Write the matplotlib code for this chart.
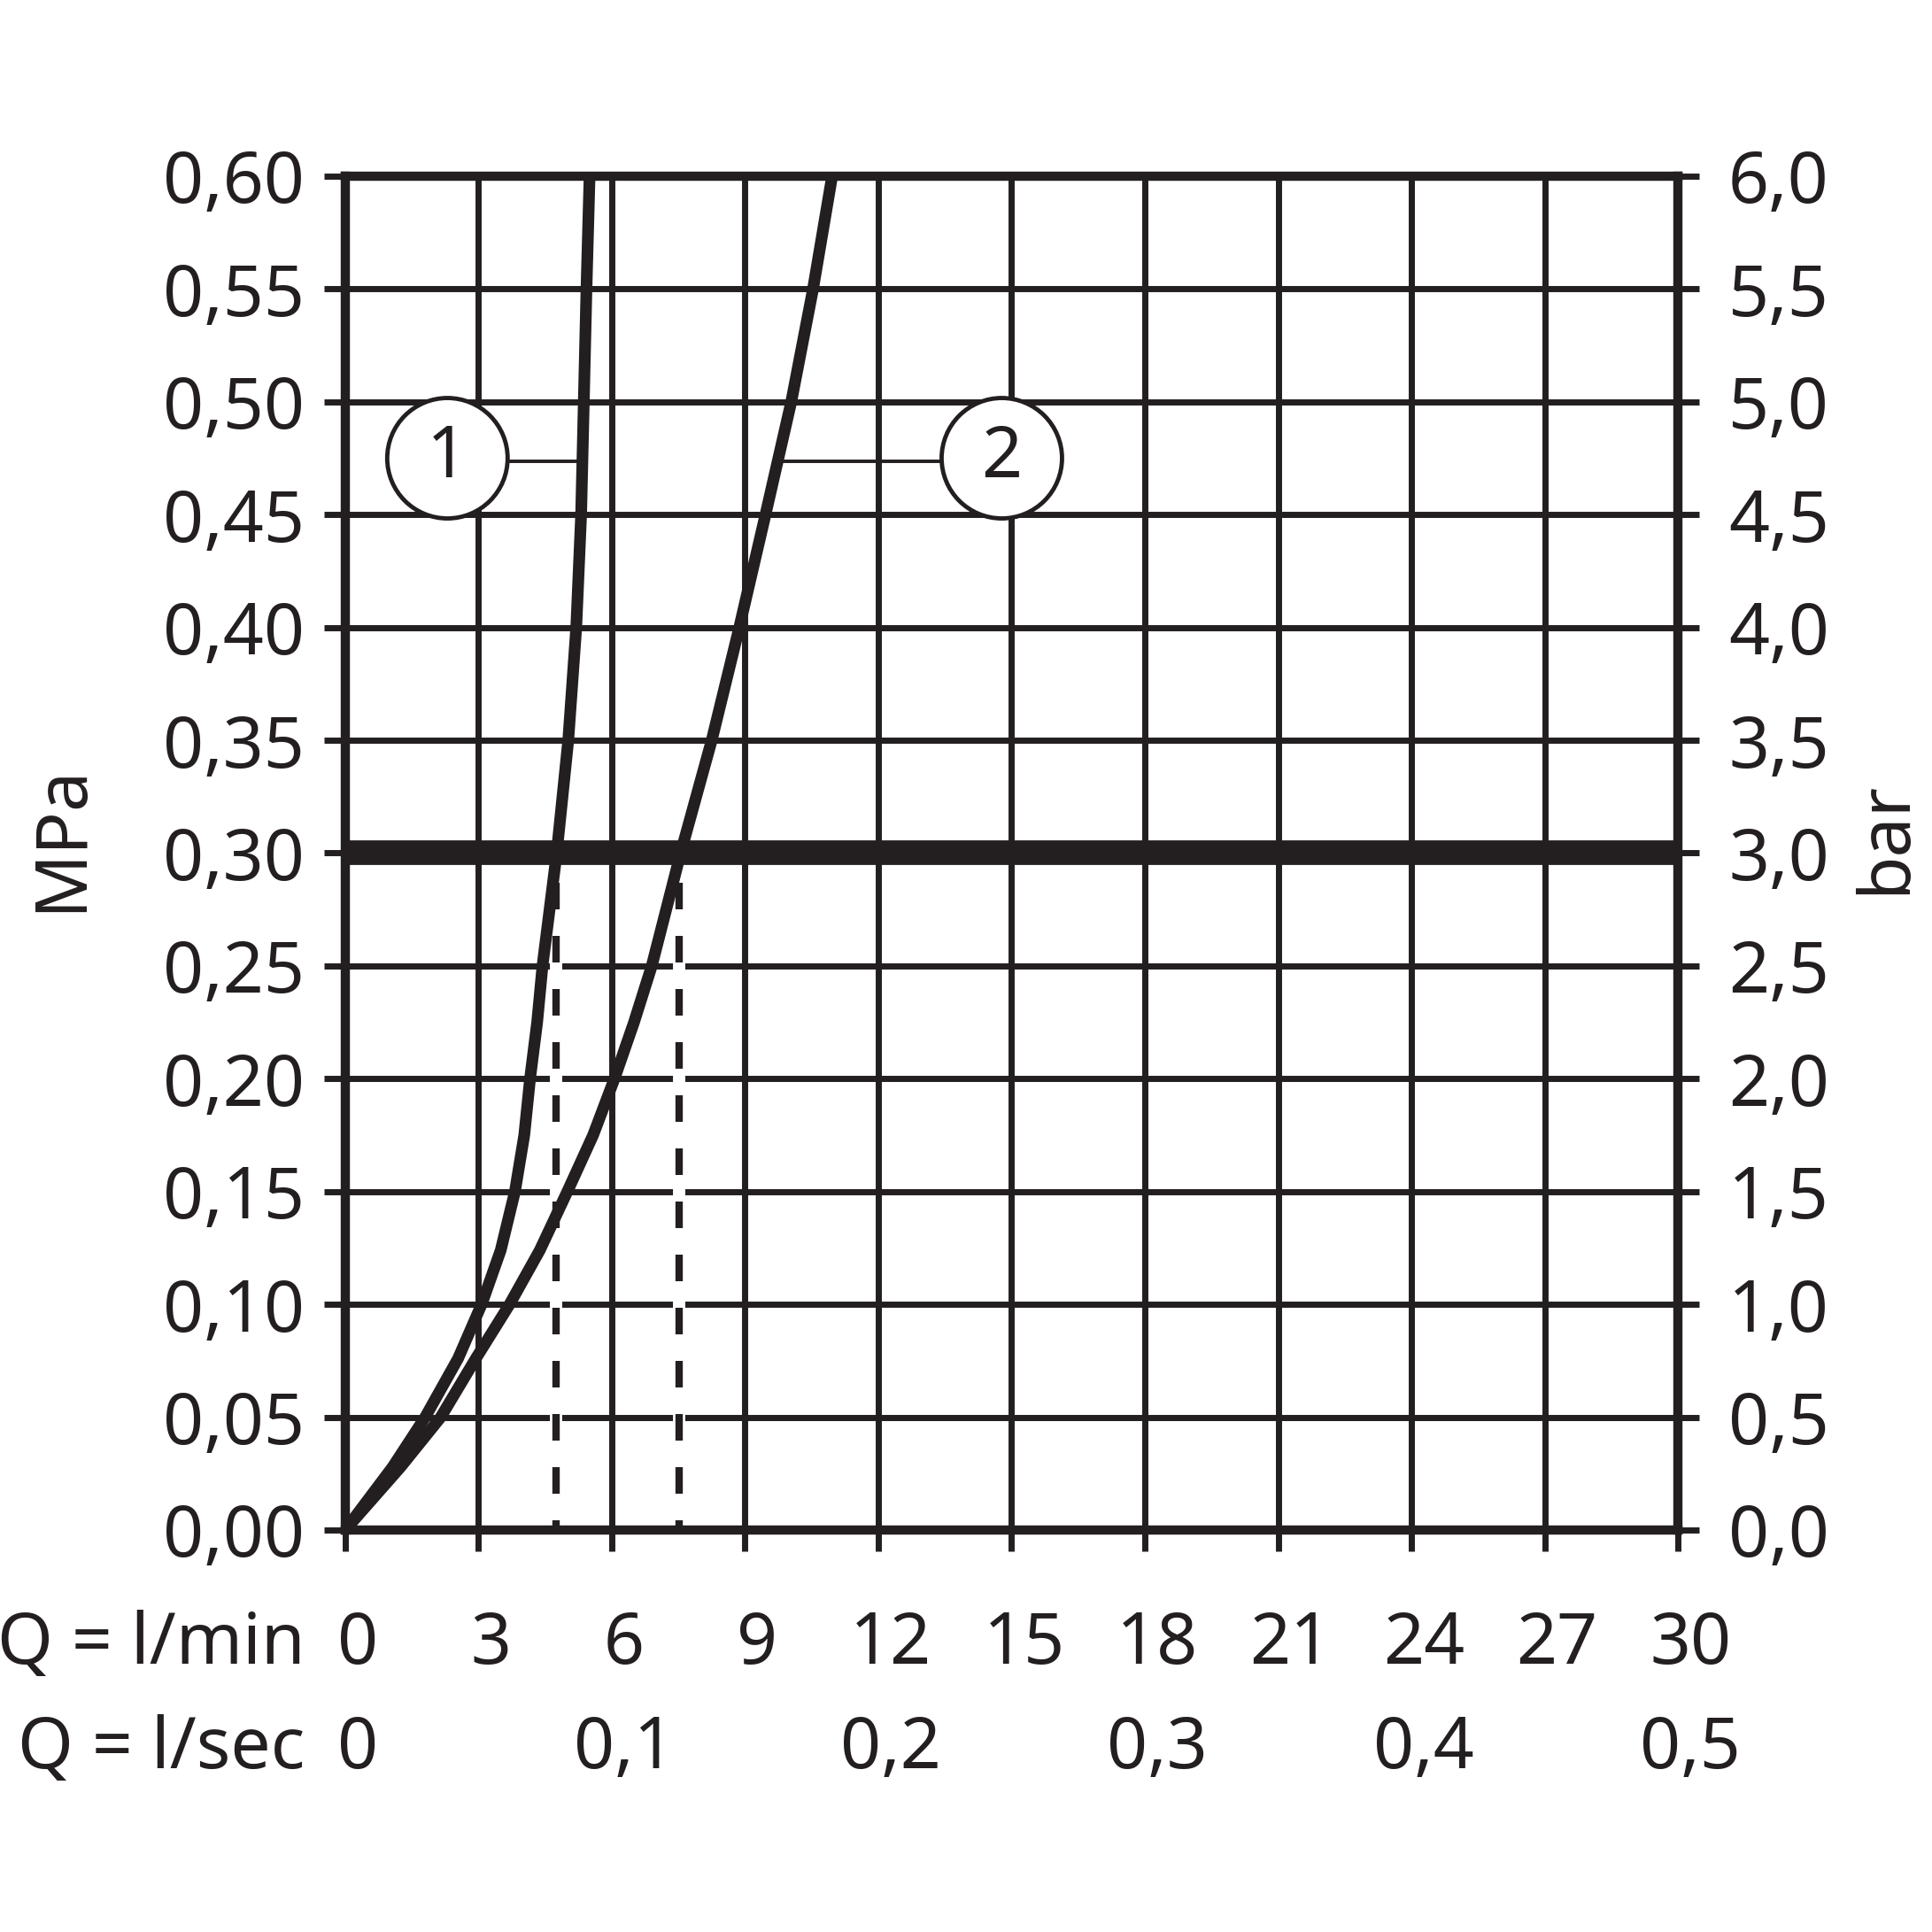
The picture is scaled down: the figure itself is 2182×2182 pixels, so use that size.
import numpy as np
import matplotlib.pyplot as plt
from matplotlib.patches import Circle
from matplotlib import transforms

plt.rcParams['font.family'] = ['Noto Sans', 'DejaVu Sans']

# curve 1 (steep) - pressure in MPa vs flow in l/min
p1 = [0.0, 0.028, 0.05, 0.076, 0.10, 0.124, 0.15, 0.175, 0.20, 0.225, 0.25, 0.30,
      0.35, 0.40, 0.45, 0.50, 0.55, 0.60]
q1 = [0.0, 1.07, 1.8, 2.54, 3.07, 3.5, 3.82, 4.03, 4.16, 4.32, 4.44, 4.76,
      5.02, 5.2, 5.31, 5.37, 5.43, 5.5]

# curve 2
p2 = [0.0, 0.028, 0.05, 0.076, 0.10, 0.124, 0.15, 0.175, 0.20, 0.225, 0.25, 0.30,
      0.35, 0.40, 0.45, 0.50, 0.55, 0.60]
q2 = [0.0, 1.25, 2.15, 2.94, 3.7, 4.38, 5.0, 5.58, 6.06, 6.5, 6.9, 7.55,
      8.25, 8.87, 9.46, 10.04, 10.53, 10.96]

# flows at 0.3 MPa (dashed lines)
q_dash = [4.74, 7.51]
p_dash_top = 0.287
p_ref = 0.30

lmin_ticks = list(range(0, 31, 3))
lsec_pos = [0, 6, 12, 18, 24, 30]
lsec_labels = ['0', '0,1', '0,2', '0,3', '0,4', '0,5']
mpa_ticks = np.arange(0, 0.601, 0.05)
mpa_labels = ['0,00', '0,05', '0,10', '0,15', '0,20', '0,25', '0,30',
              '0,35', '0,40', '0,45', '0,50', '0,55', '0,60']
bar_ticks = np.arange(0, 6.01, 0.5)
bar_labels = ['0,0', '0,5', '1,0', '1,5', '2,0', '2,5', '3,0',
              '3,5', '4,0', '4,5', '5,0', '5,5', '6,0']

# curve labels: (text, q, p, q where leader meets curve)
labels = [('1', 2.3, 0.475, 5.33), ('2', 14.78, 0.475, 9.8)]

ink = '#231f20'
fs = 58
grid_lw = 5

fig = plt.figure(figsize=(21.82, 21.82), dpi=100)
ax = fig.add_axes([0.1787, 0.2081, 0.6898, 0.7007])
ax.set_xlim(0, 30)
ax.set_ylim(0, 0.6)

ax.set_xticks(lmin_ticks)
ax.set_xticklabels([])
ax.set_yticks(mpa_ticks)
ax.set_yticklabels(mpa_labels, fontsize=fs, color=ink)
ax.tick_params(axis='x', length=17, width=grid_lw, color=ink)
ax.tick_params(axis='y', length=17, width=grid_lw, color=ink, pad=16)
ax.grid(True, color=ink, lw=grid_lw)
ax.set_axisbelow(True)
for s in ax.spines.values():
    s.set_linewidth(7.5)
    s.set_color(ink)

# thick reference line
ax.axhline(p_ref, color=ink, lw=20, solid_capstyle='butt', zorder=2)

# dashed lines with white halo
for q in q_dash:
    ax.plot([q, q], [p_dash_top, 0], color='white', lw=10, zorder=2.5, solid_capstyle='butt')
    ax.plot([q, q], [p_dash_top, 0], color=ink, lw=6, dashes=(3.6, 3.6), zorder=2.6)

ax.plot(q1, p1, color=ink, lw=9.5, zorder=3, solid_capstyle='round', solid_joinstyle='round')
ax.plot(q2, p2, color=ink, lw=9.5, zorder=3, solid_capstyle='round', solid_joinstyle='round')

for txt, qx, py, qc in labels:
    ax.plot([qx, qc], [py - 0.0013, py - 0.0013], color=ink, lw=2.8, zorder=3.5)
    tr = fig.dpi_scale_trans + transforms.ScaledTranslation(qx, py, ax.transData)
    circ = Circle((0, 0), 0.68, transform=tr, facecolor='white', edgecolor=ink, lw=3.5, zorder=4)
    ax.add_patch(circ)
    ax.text(qx, py, txt, ha='center', va='center', fontsize=fs, color=ink, zorder=5)

ax.set_xlim(0, 30)
ax.set_ylim(0, 0.6)

# right axis in bar
ax2 = ax.twinx()
ax2.set_ylim(0, 6)
ax2.set_yticks(bar_ticks)
ax2.set_yticklabels(bar_labels, fontsize=fs, color=ink)
ax2.tick_params(axis='y', length=17, width=grid_lw, color=ink, pad=24)
for s in ax2.spines.values():
    s.set_visible(False)

# flow labels
off = transforms.ScaledTranslation(0.14, 0, fig.dpi_scale_trans)
trx = transforms.blended_transform_factory(ax.transData, fig.transFigure) + off
for q in lmin_ticks:
    fig.text(q, 0.1485, str(q), transform=trx, ha='center', va='center', fontsize=fs, color=ink)
for q, lab in zip(lsec_pos, lsec_labels):
    fig.text(q, 0.0944, lab, transform=trx, ha='center', va='center', fontsize=fs, color=ink)
fig.text(0.158, 0.1485, 'Q = l/min', ha='right', va='center', fontsize=fs, color=ink)
fig.text(0.158, 0.0944, 'Q = l/sec', ha='right', va='center', fontsize=fs, color=ink)

fig.text(0.032, 0.5665, 'MPa', rotation=90, ha='center', va='center', fontsize=fs, color=ink)
fig.text(0.976, 0.5665, 'bar', rotation=90, ha='center', va='center', fontsize=fs, color=ink)

fig.savefig('out.png', dpi=100, facecolor='white')
